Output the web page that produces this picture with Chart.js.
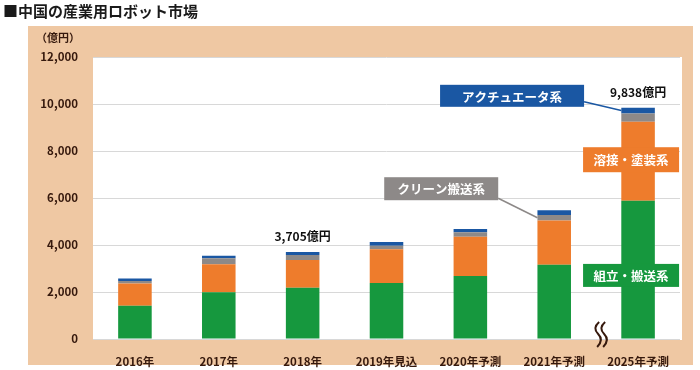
<!DOCTYPE html>
<html>
<head>
<meta charset="utf-8">
<script src="https://cdn.jsdelivr.net/npm/chart.js@4/dist/chart.umd.min.js"></script>
<style>
  html, body { margin: 0; padding: 0; background: #fff; }
</style>
</head>
<body>
<canvas id="robotChart" width="700" height="370"></canvas>
<script>
const years = ['2016年', '2017年', '2018年', '2019年見込', '2020年予測', '2021年予測', '2025年予測'];
const assembly = [1420, 1990, 2180, 2380, 2680, 3160, 5880];   // 組立・搬送系
const welding = [940, 1190, 1180, 1435, 1670, 1880, 3370];     // 溶接・塗装系
const clean = [110, 255, 210, 155, 190, 240, 350];             // クリーン搬送系
const actuator = [100, 110, 135, 160, 140, 200, 238];          // アクチュエータ系
const yTicks = [0, 2000, 4000, 6000, 8000, 10000, 12000];
const totalLabels = { 2: '3,705億円', 6: '9,838億円' };

const GREEN = '#16983e';
const ORANGE = '#ee7c2c';
const GRAY = '#8d8988';
const BLUE = '#1a57a3';
const TAN = '#efc8a3';
const BROWN = '#36190d';
const JP = '"Noto Sans CJK JP", "Noto Sans", sans-serif';

const sums = years.map((_, i) => assembly[i] + welding[i] + clean[i] + actuator[i]);

function box(ctx, x, y, w, h, fill, text) {
    ctx.fillStyle = fill;
    ctx.fillRect(x, y, w, h);
    ctx.fillStyle = '#fff';
    ctx.font = 'bold 12.5px ' + JP;
    ctx.textAlign = 'center';
    ctx.textBaseline = 'middle';
    ctx.fillText(text, x + w / 2, y + h / 2 + 1);
}

const decor = {
    id: 'decor',
    beforeDraw(chart) {
        const ctx = chart.ctx;
        const a = chart.chartArea;
        ctx.save();
        ctx.fillStyle = '#fff';
        ctx.fillRect(0, 0, chart.width, chart.height);
        ctx.fillStyle = TAN;
        ctx.fillRect(28, 26, 665, 339);
        ctx.fillStyle = '#fff';
        ctx.fillRect(a.left, a.top, a.right - a.left + 2, a.bottom - a.top + 1);

        ctx.fillStyle = '#1a1a1a';
        ctx.font = 'bold 15px ' + JP;
        ctx.textAlign = 'left';
        ctx.textBaseline = 'middle';
        ctx.fillText('■中国の産業用ロボット市場', 3, 11);

        ctx.fillStyle = BROWN;
        ctx.font = 'bold 11px ' + JP;
        ctx.textAlign = 'center';
        ctx.fillText('（億円）', 58, 38);
        ctx.restore();
    },
    afterDatasetsDraw(chart) {
        const ctx = chart.ctx;
        const x = chart.scales.x;
        const y = chart.scales.y;
        const half = chart.getDatasetMeta(0).data[0].width / 2;
        const cx5 = x.getPixelForValue(5);
        const cx6 = x.getPixelForValue(6);
        ctx.save();

        // totals
        ctx.fillStyle = '#111';
        ctx.font = 'bold 12px ' + JP;
        ctx.textAlign = 'center';
        ctx.textBaseline = 'middle';
        Object.keys(totalLabels).forEach(k => {
            const i = Number(k);
            ctx.fillText(totalLabels[k], x.getPixelForValue(i), y.getPixelForValue(sums[i]) - 15);
        });

        // leader lines
        ctx.lineWidth = 1.5;
        ctx.strokeStyle = BLUE;
        const top6 = y.getPixelForValue(sums[6]);
        ctx.beginPath();
        ctx.moveTo(cx6 - 54, top6 - 6);
        ctx.lineTo(cx6 - half, y.getPixelForValue(sums[6] - actuator[6] / 2));
        ctx.stroke();

        ctx.strokeStyle = GRAY;
        const top5 = y.getPixelForValue(sums[5]);
        ctx.beginPath();
        ctx.moveTo(cx5 - 56, top5 - 12);
        ctx.lineTo(cx5 - half, y.getPixelForValue(sums[5] - actuator[5] - clean[5] / 2));
        ctx.stroke();

        // callout boxes
        box(ctx, cx6 - 198, top6 - 23, 144, 22, BLUE, 'アクチュエータ系');
        box(ctx, cx5 - 170, top5 - 33, 114, 23, GRAY, 'クリーン搬送系');
        const orangeMid = y.getPixelForValue(assembly[6] + welding[6] / 2);
        box(ctx, cx6 - 55, orangeMid - 14, 96, 25, ORANGE, '溶接・塗装系');
        const greenMid = y.getPixelForValue(assembly[6] / 2);
        box(ctx, cx6 - 55, greenMid - 6, 96, 23, GREEN, '組立・搬送系');

        // axis break mark
        const bx = (cx5 + cx6) / 2 + 1;
        const by = chart.chartArea.bottom - 17;
        ctx.strokeStyle = BROWN;
        ctx.lineWidth = 2;
        [0, 6].forEach(dx => {
            ctx.beginPath();
            ctx.moveTo(bx + dx + 2, by);
            ctx.quadraticCurveTo(bx + dx - 5, by + 6, bx + dx + 1, by + 12);
            ctx.quadraticCurveTo(bx + dx + 7, by + 18, bx + dx, by + 25);
            ctx.stroke();
        });
        ctx.restore();
    }
};

const ctx = document.getElementById('robotChart').getContext('2d');
const robotChart = new Chart(ctx, {
    type: 'bar',
    data: {
        labels: years,
        datasets: [
            { label: '組立・搬送系', data: assembly, backgroundColor: GREEN },
            { label: '溶接・塗装系', data: welding, backgroundColor: ORANGE },
            { label: 'クリーン搬送系', data: clean, backgroundColor: GRAY },
            { label: 'アクチュエータ系', data: actuator, backgroundColor: BLUE }
        ].map(d => Object.assign(d, { barPercentage: 0.4, categoryPercentage: 1.0, borderWidth: 0 }))
    },
    options: {
        responsive: false,
        animation: false,
        layout: { padding: { top: 57, right: 20, bottom: 0, left: 0 } },
        plugins: {
            legend: { display: false },
            tooltip: { enabled: false }
        },
        scales: {
            x: {
                stacked: true,
                grid: { display: false },
                border: { display: false },
                ticks: { color: BROWN, font: { family: JP, size: 11.5, weight: 'bold' }, padding: 8, maxRotation: 0 },
                afterFit(s) { s.height = 31; }
            },
            y: {
                stacked: true,
                min: 0,
                max: 12000,
                afterBuildTicks(s) { s.ticks = yTicks.map(v => ({ value: v })); },
                grid: { color: '#d8d8d8', drawTicks: false },
                border: { display: false },
                ticks: {
                    color: BROWN,
                    font: { family: JP, size: 11.5, weight: 'bold' },
                    padding: 15,
                    callback: v => v.toLocaleString('en-US')
                },
                afterFit(s) { s.width = 93; }
            }
        }
    },
    plugins: [decor]
});
</script>
</body>
</html>
